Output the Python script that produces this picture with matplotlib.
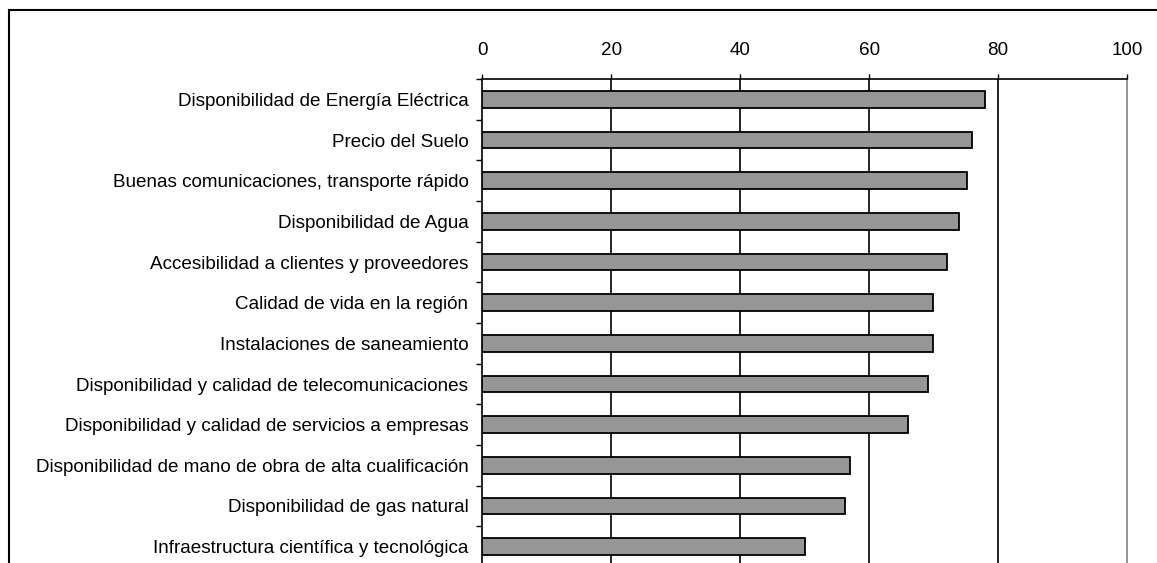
import matplotlib

matplotlib.use("Agg")

import matplotlib.pyplot as plt
from matplotlib.patches import Rectangle
import numpy as np

# Factores de localización (escala 0-100)
categories = [
    "Disponibilidad de Energía Eléctrica",
    "Precio del Suelo",
    "Buenas comunicaciones, transporte rápido",
    "Disponibilidad de Agua",
    "Accesibilidad a clientes y proveedores",
    "Calidad de vida en la región",
    "Instalaciones de saneamiento",
    "Disponibilidad y calidad de telecomunicaciones",
    "Disponibilidad y calidad de servicios a empresas",
    "Disponibilidad de mano de obra de alta cualificación",
    "Disponibilidad de gas natural",
    "Infraestructura científica y tecnológica",
]
values = [78.0, 76.0, 75.2, 74.0, 72.1, 69.9, 69.9, 69.1, 66.1, 57.0, 56.2, 50.1]
x_ticks = [0, 20, 40, 60, 80, 100]

plt.rcParams["font.family"] = ["Liberation Sans", "DejaVu Sans"]

W, H = 1157, 563
fig = plt.figure(figsize=(W / 100, H / 100), dpi=100)

# Marco exterior del gráfico (recortado a la derecha y abajo)
fig.patches.append(
    Rectangle(
        (9 / W, -0.1), 1.2, 1 - 10 / H + 0.1,
        transform=fig.transFigure, fill=False,
        edgecolor="black", linewidth=1.5,
    )
)

left, right = 482.3, 1127.0
top, bottom = 79.0, 567.0
ax = fig.add_axes([left / W, 1 - bottom / H, (right - left) / W, (bottom - top) / H])

y = np.arange(len(categories))
ax.barh(y, values, height=0.41, color="#969696", edgecolor="black", linewidth=1.3, zorder=3)

ax.set_xlim(0, 100)
ax.set_ylim(len(categories) - 0.5, -0.5)

ax.xaxis.tick_top()
ax.set_xticks(x_ticks)
ax.tick_params(axis="x", direction="out", length=3.5, width=1, pad=11, labelsize=13.6)

ax.set_yticks(y)
ax.set_yticklabels(categories, fontsize=13.6)
ax.set_yticks(np.arange(len(categories) + 1) - 0.5, minor=True)
ax.tick_params(axis="y", which="major", length=0, pad=10)
ax.tick_params(axis="y", which="minor", direction="out", length=4.3, width=1)

for xv in x_ticks[1:-1]:
    ax.axvline(xv, color="black", linewidth=1.2, zorder=1)

ax.spines["top"].set_linewidth(1.2)
ax.spines["left"].set_linewidth(1.2)
ax.spines["right"].set_color("#808080")
ax.spines["right"].set_linewidth(1.2)
ax.spines["bottom"].set_visible(False)

fig.savefig("out.png", dpi=100)
